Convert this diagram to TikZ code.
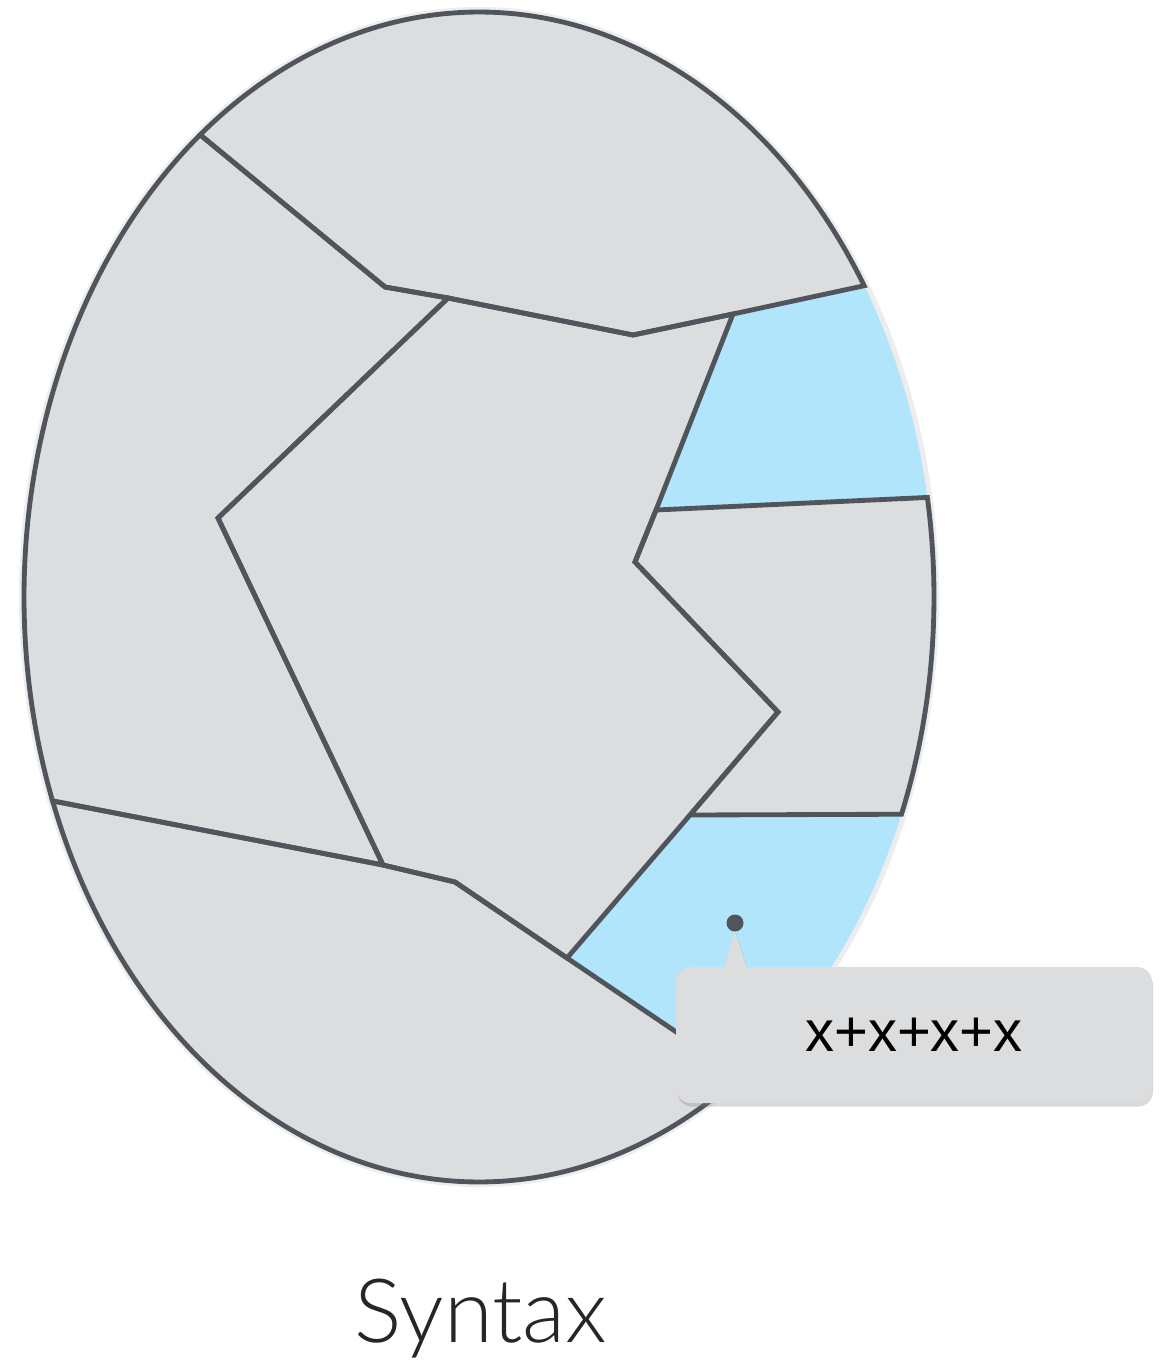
\documentclass[tikz,border=0pt]{standalone}
\usepackage{fontspec}
\setsansfont{Liberation Sans}
\newfontfamily\lightfont{Lato Light}
\usepackage{xcolor}
\usetikzlibrary{calc, shadows, positioning}

\definecolor{regiongray}{HTML}{DCDDDF}
\definecolor{regionblue}{HTML}{B1E5FC}
\definecolor{edgegray}{HTML}{50555C}

% outline of each region (ellipse centre (479,-597), radii 455 and 585)
\newcommand{\topregion}{(tl) arc[start angle=127.8, end angle=32.15, x radius=455, y radius=585] -- (733,-314) -- (633,-335) -- (448,-298) -- (385,-287) -- cycle}
\newcommand{\leftregion}{(tl) arc[start angle=127.8, end angle=200.4, x radius=455, y radius=585] -- (383,-865) -- (218,-518) -- (448,-298) -- (385,-287) -- cycle}
\newcommand{\midregion}{(448,-298) -- (633,-335) -- (733,-314) -- (656,-510) -- (635,-562) -- (778,-712) -- (690,-815) -- (567,-958) -- (455,-882) -- (383,-865) -- (218,-518) -- cycle}
\newcommand{\rightregion}{(656,-510) -- (rt) arc[start angle=9.8, end angle=-21.8, x radius=455, y radius=585] -- (690,-815) -- (778,-712) -- (635,-562) -- cycle}
\newcommand{\bottomregion}{(bl) arc[start angle=200.4, end angle=305.1, x radius=455, y radius=585] -- (567,-958) -- (455,-882) -- (383,-865) -- cycle}
\newcommand{\upperblue}{(733,-314) -- (tr) arc[start angle=32.15, end angle=9.8, x radius=455, y radius=585] -- (656,-510) -- cycle}
\newcommand{\lowerblue}{(690,-815) -- (rb) arc[start angle=-21.8, end angle=-54.9, x radius=455, y radius=585] -- (567,-958) -- cycle}

\begin{document}
\begin{tikzpicture}[x=0.02cm, y=0.02cm,
    edge/.style={draw=edgegray, line width=2.75pt, line join=miter},
    tipbox/.style={fill=regiongray, rounded corners=0.3cm, minimum width=9.52cm, minimum height=2.72cm, inner sep=0pt,
        font=\sffamily\fontsize{33}{38}\selectfont,
        drop shadow={opacity=0.3, shadow xshift=0.6pt, shadow yshift=-2pt}}]

    \useasboundingbox (0,0) rectangle (1168,-1363);

    % =================================================================
    % 1. POINTS ON THE ELLIPSE
    % =================================================================
    \coordinate (c) at (479,-597);
    \coordinate (tl) at ([shift={(c)}] 127.8:455 and 585);
    \coordinate (tr) at ([shift={(c)}] 32.15:455 and 585);
    \coordinate (rt) at ([shift={(c)}] 9.8:455 and 585);
    \coordinate (rb) at ([shift={(c)}] -21.8:455 and 585);
    \coordinate (bl) at ([shift={(c)}] 200.4:455 and 585);

    % faint halo round the ellipse
    \fill[black, opacity=0.07] (c) ellipse[x radius=460, y radius=590];

    % =================================================================
    % 2. FILL THE REGIONS, THEN THEIR EDGES
    % =================================================================
    \fill[regionblue] \upperblue;
    \fill[regionblue] \lowerblue;
    \fill[regiongray] \topregion;
    \fill[regiongray] \leftregion;
    \fill[regiongray] \midregion;
    \fill[regiongray] \rightregion;
    \fill[regiongray] \bottomregion;

    \draw[edge] \topregion;
    \draw[edge] \leftregion;
    \draw[edge] \midregion;
    \draw[edge] \rightregion;
    \draw[edge] \bottomregion;

    % =================================================================
    % 3. TOOLTIP AND LABEL
    % =================================================================
    \coordinate (dot) at (735,-923);
    \fill[regiongray, drop shadow={opacity=0.25, shadow xshift=0.6pt, shadow yshift=-1pt}] ($(dot)+(0,-8)$) -- (722,-975) -- (749,-975) -- cycle;
    \fill[edgegray] (dot) circle[radius=8.5];
    \node[tipbox] (tip) at (914,-1035) {x+x+x+x};

    \node[anchor=base, text=black!85, font=\lightfont\fontsize{50.5}{55}\selectfont] (syntax) at (481,-1342) {Syntax};

\end{tikzpicture}
\end{document}
